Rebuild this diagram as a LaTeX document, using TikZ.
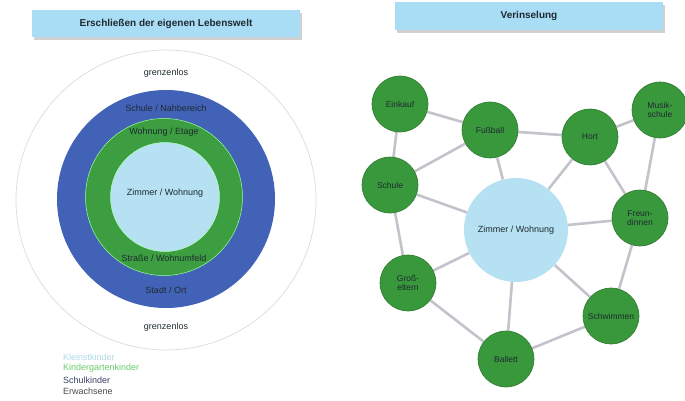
\documentclass[tikz,border=0pt]{standalone}
\usepackage{fontspec}
\setmainfont{Liberation Sans}
\usetikzlibrary{shadows,backgrounds}
\definecolor{titlebg}{HTML}{A9DCF5}
\definecolor{lightbl}{HTML}{B5E1F2}
\definecolor{ringgreen}{HTML}{3C9E40}
\definecolor{ringblue}{HTML}{4262B8}
\definecolor{nodegreen}{HTML}{3A983C}
\definecolor{nodeborder}{HTML}{2E7A30}
\definecolor{edgegray}{HTML}{C4C2CA}
\definecolor{txt}{HTML}{1E2A30}
\tikzset{
  titlebox/.style={draw=none, fill=titlebg, minimum height=27pt, font=\fontsize{10}{11}\selectfont\bfseries, text=txt,
    drop shadow={shadow xshift=2pt, shadow yshift=-3pt, fill=gray!60, opacity=0.6}},
  ringtext/.style={font=\fontsize{9}{10}\selectfont, text=txt},
  gnode/.style={circle, fill=nodegreen, draw=nodeborder, line width=0.6pt, minimum size=56pt, inner sep=0pt, align=center,
    font=\fontsize{8.5}{9.5}\selectfont, text=txt},
  cnode/.style={circle, fill=lightbl, draw=none, minimum size=104pt, inner sep=0pt, font=\fontsize{9}{10}\selectfont, text=txt},
  edge/.style={draw=edgegray, line width=2.6pt},
  legend/.style={anchor=west, font=\fontsize{9}{10}\selectfont, inner sep=0pt}
}
\begin{document}
\begin{tikzpicture}[x=1pt, y=-1pt]
\useasboundingbox (0,0) rectangle (685,401);
% titles
\node[titlebox, minimum width=268pt] (t1) at (166,23.5) {Erschließen der eigenen Lebenswelt};
\node[titlebox, minimum width=268pt, minimum height=28pt] (t2) at (529,16) {Verinselung};
% rings
\node[circle, draw=gray!25, line width=0.8pt, fill=white, minimum size=300pt, inner sep=0pt] (r0) at (166,200) {};
\node[circle, fill=ringblue, minimum size=218pt, inner sep=0pt] (r1) at (166,199) {};
\node[circle, fill=ringgreen, draw=green!40!white, line width=0.5pt, minimum size=157pt, inner sep=0pt] (r2) at (164,197) {};
\node[circle, fill=lightbl, draw=green!30!white, line width=0.5pt, minimum size=109pt, inner sep=0pt] (r3) at (165,197) {};
\node[ringtext] (l0a) at (166,73) {grenzenlos};
\node[ringtext] (l0b) at (166,327) {grenzenlos};
\node[ringtext] (l1a) at (166,108) {Schule / Nahbereich};
\node[ringtext] (l1b) at (166,290) {Stadt / Ort};
\node[ringtext] (l2a) at (164,132) {Wohnung / Etage};
\node[ringtext] (l2b) at (164,258) {Straße / Wohnumfeld};
\node[ringtext] (l3) at (165,193) {Zimmer / Wohnung};
% legend
\node[legend, text=lightbl!90!gray] (g1) at (63,357) {Kleinstkinder};
\node[legend, text=green!50!gray!80!white] (g2) at (63,368.5) {Kindergartenkinder};
\node[legend, text=ringblue!50!black!80!gray] (g3) at (63,380) {Schulkinder};
\node[legend, text=gray!60!black] (g4) at (63,391.5) {Erwachsene};
% network
\node[cnode] (zw) at (516,230) {Zimmer / Wohnung};
\node[gnode] (ek) at (400,104) {Einkauf};
\node[gnode] (fb) at (490,130) {Fußball};
\node[gnode] (ho) at (590,137) {Hort};
\node[gnode] (ms) at (660,110) {Musik-\\schule};
\node[gnode] (sc) at (390,185) {Schule};
\node[gnode] (fr) at (640,218) {Freun-\\dinnen};
\node[gnode] (ge) at (408,283) {Groß-\\eltern};
\node[gnode] (sw) at (611,316) {Schwimmen};
\node[gnode] (ba) at (506,359) {Ballett};
\begin{pgfonlayer}{background}
\draw[edge] (ek) -- (fb);
\draw[edge] (ek) -- (sc);
\draw[edge] (sc) -- (fb);
\draw[edge] (fb) -- (ho);
\draw[edge] (fb) -- (zw);
\draw[edge] (ho) -- (ms);
\draw[edge] (ho) -- (zw);
\draw[edge] (ho) -- (fr);
\draw[edge] (ms) -- (fr);
\draw[edge] (sc) -- (zw);
\draw[edge] (sc) -- (ge);
\draw[edge] (zw) -- (fr);
\draw[edge] (zw) -- (ge);
\draw[edge] (zw) -- (ba);
\draw[edge] (zw) -- (sw);
\draw[edge] (fr) -- (sw);
\draw[edge] (ge) -- (ba);
\draw[edge] (ba) -- (sw);
\end{pgfonlayer}
\end{tikzpicture}
\end{document}
